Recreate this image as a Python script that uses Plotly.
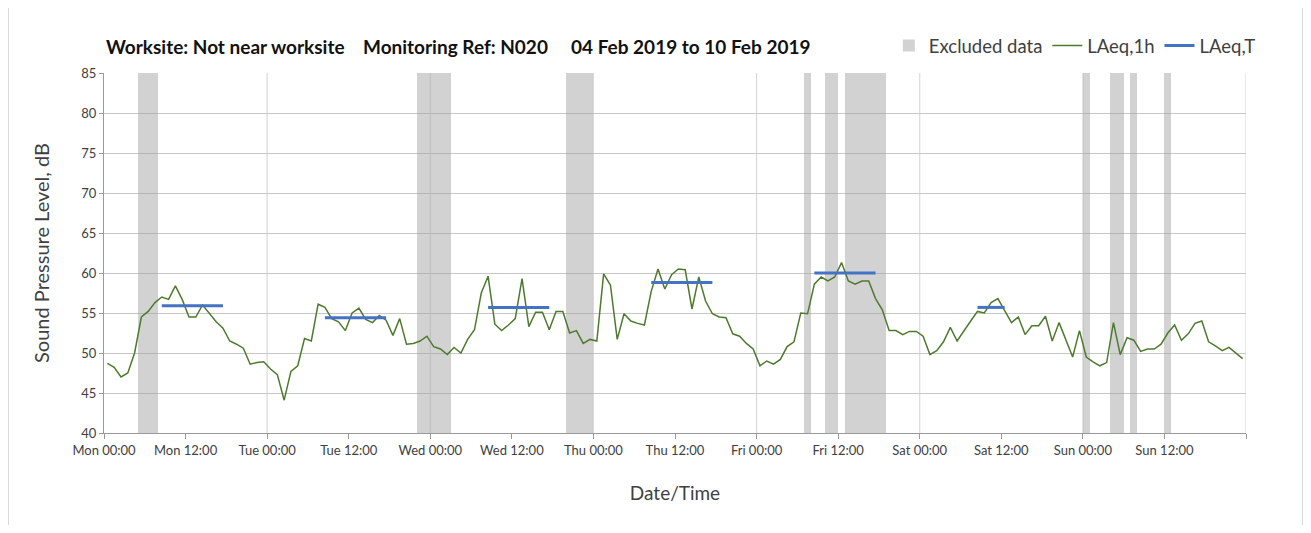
import pandas as pd
import plotly.graph_objects as go

# Hourly LAeq,1h values (dB), Mon 04 Feb 2019 00:00 -> Sun 10 Feb 2019 23:00
laeq_1h = [
    48.7, 48.2, 47.0, 47.5, 50.0, 54.5, 55.2, 56.3, 57.0, 56.7, 58.4, 56.7,
    54.5, 54.5, 56.0, 55.0, 53.9, 53.1, 51.5, 51.1, 50.6, 48.6, 48.8, 48.9,
    48.0, 47.3, 44.1, 47.7, 48.4, 51.8, 51.5, 56.1, 55.7, 54.3, 53.9, 52.8,
    55.0, 55.6, 54.2, 53.8, 54.7, 54.1, 52.2, 54.3, 51.1, 51.2, 51.5, 52.1,
    50.8, 50.5, 49.8, 50.7, 50.0, 51.7, 52.9, 57.5, 59.6, 53.6, 52.8, 53.5,
    54.3, 59.3, 53.3, 55.1, 55.1, 52.9, 55.2, 55.2, 52.5, 52.8, 51.2, 51.7,
    51.5, 59.9, 58.5, 51.7, 54.9, 54.0, 53.7, 53.5, 57.7, 60.5, 58.0, 59.8,
    60.5, 60.4, 55.5, 59.5, 56.5, 54.9, 54.5, 54.4, 52.4, 52.1, 51.2, 50.5,
    48.4, 49.0, 48.6, 49.2, 50.8, 51.4, 55.0, 54.9, 58.6, 59.5, 59.0, 59.5,
    61.3, 59.0, 58.6, 59.0, 59.0, 56.8, 55.4, 52.8, 52.8, 52.3, 52.7, 52.7,
    52.1, 49.8, 50.3, 51.4, 53.2, 51.5, 52.8, 54.0, 55.2, 55.0, 56.3, 56.8,
    55.3, 53.8, 54.5, 52.3, 53.4, 53.4, 54.6, 51.5, 53.8, 51.6, 49.5, 52.8,
    49.5, 48.9, 48.4, 48.8, 53.8, 49.8, 51.9, 51.6, 50.2, 50.5, 50.5, 51.1,
    52.5, 53.5, 51.6, 52.4, 53.7, 54.0, 51.4, 50.9, 50.3, 50.7, 50.0, 49.3,
]
# each hourly value plotted at the middle of its hour
hour_times = pd.date_range("2019-02-04 00:30", periods=len(laeq_1h), freq="h")

# LAeq,T over the daytime periods
laeqT_start = ["2019-02-04 08:30", "2019-02-05 08:30", "2019-02-06 08:30",
               "2019-02-07 08:30", "2019-02-08 08:30", "2019-02-09 08:30"]
laeqT_end = ["2019-02-04 17:30", "2019-02-05 17:30", "2019-02-06 17:30",
             "2019-02-07 17:30", "2019-02-08 17:30", "2019-02-09 12:30"]
laeqT_value = [55.9, 54.4, 55.7, 58.8, 60.0, 55.7]

# Excluded data periods
excl_start = ["2019-02-04 05:00", "2019-02-05 22:00", "2019-02-06 20:00",
              "2019-02-08 07:00", "2019-02-08 10:00", "2019-02-08 13:00",
              "2019-02-10 00:00", "2019-02-10 04:00", "2019-02-10 07:00",
              "2019-02-10 12:00"]
excl_end = ["2019-02-04 08:00", "2019-02-06 03:00", "2019-02-07 00:00",
            "2019-02-08 08:00", "2019-02-08 12:00", "2019-02-08 19:00",
            "2019-02-10 01:00", "2019-02-10 06:00", "2019-02-10 08:00",
            "2019-02-10 13:00"]

y_min, y_max = 40, 85
x_start, x_end = pd.Timestamp("2019-02-04 00:00"), pd.Timestamp("2019-02-11 00:00")

font_name = "Lato"
text_col = "#404040"

# build the excluded bars and the LAeq,T segments
es = pd.to_datetime(excl_start)
ee = pd.to_datetime(excl_end)
excl_mid = es + (ee - es) / 2
excl_width = [(b - a).total_seconds() * 1000 for a, b in zip(es, ee)]

t_x, t_y = [], []
for s, e, v in zip(laeqT_start, laeqT_end, laeqT_value):
    t_x += [pd.Timestamp(s), pd.Timestamp(e), None]
    t_y += [v, v, None]

fig = go.Figure()
fig.add_trace(go.Bar(
    x=excl_mid, y=[y_max - y_min] * len(excl_mid), base=y_min, width=excl_width,
    marker=dict(color="rgba(160,160,160,0.48)", line=dict(width=0)),
    name="Excluded data", hoverinfo="skip",
))
fig.add_trace(go.Scatter(
    x=hour_times, y=laeq_1h, mode="lines", name="LAeq,1h",
    line=dict(color="#4E7A2E", width=1.5),
))
fig.add_trace(go.Scatter(
    x=t_x, y=t_y, mode="lines", name="LAeq,T",
    line=dict(color="#4472C4", width=3),
))

# vertical gridlines at midnight only
for d in pd.date_range("2019-02-05", "2019-02-11", freq="D"):
    fig.add_shape(type="line", xref="x", yref="paper", x0=d, x1=d, y0=0, y1=1,
                  line=dict(color="#dadada", width=1.2), layer="below")

# light frame round the chart area (top and bottom fall outside the page)
fig.add_shape(type="rect", xref="paper", yref="paper",
              x0=-0.0836, x1=1.0495, y0=-0.6, y1=1.6,
              line=dict(color="#d9d9d9", width=1))

fig.add_annotation(
    xref="paper", yref="paper", x=0.0, y=1.075, xanchor="left", yanchor="middle",
    text="<b>Worksite: Not near worksite\u00a0\u00a0\u00a0\u00a0Monitoring Ref: N020"
         "\u00a0\u00a0\u00a0\u00a0\u00a004 Feb 2019 to 10 Feb 2019</b>",
    showarrow=False, font=dict(family=font_name, size=19, color="#111111"),
)

tick_vals = list(pd.date_range(x_start, x_end, freq="12h"))
tick_text = [t.strftime("%a %H:%M") for t in tick_vals[:-1]] + [""]

# the page has an 8px body margin, so the figure is a little smaller than the window
fig.update_layout(
    width=1295, height=517,
    margin=dict(l=96, r=57, t=65, b=92),
    plot_bgcolor="white", paper_bgcolor="white",
    font=dict(family=font_name, color=text_col),
    barmode="overlay", bargap=0,
    showlegend=True,
    legend=dict(orientation="h", x=1.013, xanchor="right", y=1.075, yanchor="middle",
                font=dict(size=18.5, color=text_col), bgcolor="rgba(0,0,0,0)",
                itemwidth=30, tracegroupgap=0),
    xaxis=dict(
        type="date", range=[x_start, x_end],
        tickvals=tick_vals, ticktext=tick_text,
        showgrid=False, ticks="outside", ticklen=5, tickcolor="#999999",
        showline=True, linecolor="#999999", linewidth=1,
        tickfont=dict(size=13, color=text_col),
        title=dict(text="Date/Time", font=dict(size=19, color=text_col), standoff=30),
    ),
    yaxis=dict(
        range=[y_min, y_max], dtick=5, tick0=40,
        showgrid=True, gridcolor="#c8c8c8", gridwidth=1,
        ticks="outside", ticklen=4, tickcolor="#999999",
        showline=True, linecolor="#999999", linewidth=1,
        zeroline=False,
        tickfont=dict(size=13, color=text_col),
        title=dict(text="Sound Pressure Level, dB", font=dict(size=20, color=text_col), standoff=26),
    ),
)

fig.write_html("out.html")
